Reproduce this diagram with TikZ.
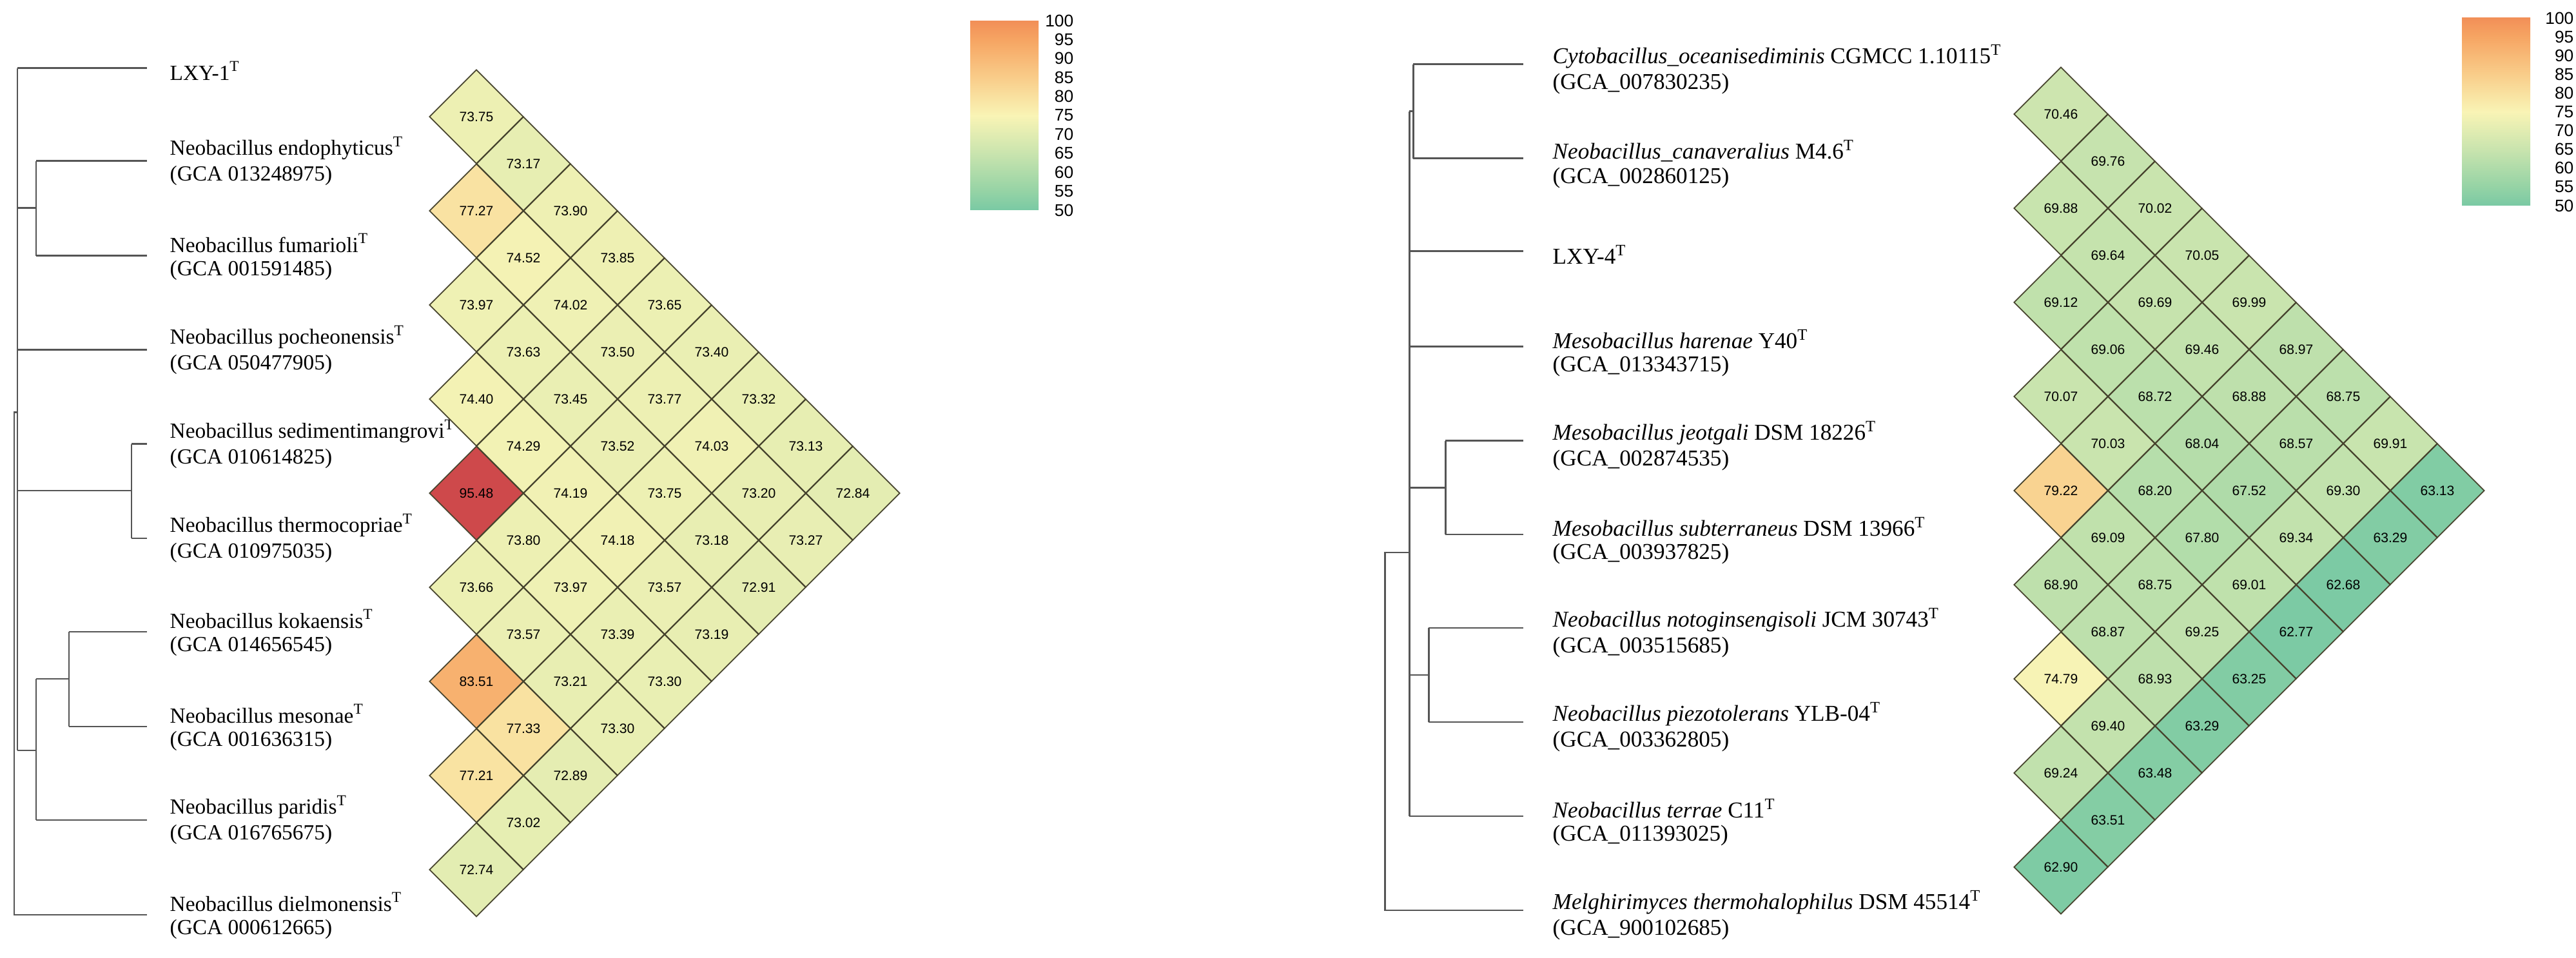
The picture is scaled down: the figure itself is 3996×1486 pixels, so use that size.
\documentclass[tikz,border=0pt]{standalone}
\usepackage{fontspec}
\setmainfont{Liberation Serif}
\newfontfamily\sansf{Liberation Sans}
\usetikzlibrary{shapes.geometric}
\definecolor{cm0}{HTML}{5A4FA0}
\definecolor{cm1}{HTML}{4A8DB6}
\definecolor{cm2}{HTML}{5EBFA3}
\definecolor{cm3}{HTML}{95D3A5}
\definecolor{cm4}{HTML}{C9E4AE}
\definecolor{cm5}{HTML}{F9F4B5}
\definecolor{cm6}{HTML}{F9CD8A}
\definecolor{cm7}{HTML}{F6A563}
\definecolor{cm8}{HTML}{EE7A4D}
\definecolor{cm9}{HTML}{D04B4B}
\definecolor{cm10}{HTML}{C1394E}
\definecolor{treec}{HTML}{555555}
\newcommand\cellcolorset[1]{%
 \pgfmathtruncatemacro\segi{floor((#1-50)/5)}%
 \pgfmathtruncatemacro\segj{\segi+1}%
 \pgfmathtruncatemacro\myfr{100-round(((#1-50)/5-\segi)*100)}%
 \colorlet{cellc}{cm\segi!\myfr!cm\segj}}
\pgfdeclareverticalshading{cbar}{100bp}{color(0bp)=(cm0); color(10bp)=(cm1); color(20bp)=(cm2); color(30bp)=(cm3); color(40bp)=(cm4); color(50bp)=(cm5); color(60bp)=(cm6); color(70bp)=(cm7); color(80bp)=(cm8); color(90bp)=(cm9); color(100bp)=(cm10)}
\begin{document}
\begin{tikzpicture}[x=0.01cm,y=-0.01cm,
  tree/.style={draw=treec,line width=0.85pt},
  cell/.style={diamond,draw=black!65!olive,line width=0.5pt,minimum width=14.6mm,minimum height=14.6mm,inner sep=0pt,font=\sansf\fontsize{6}{7}\selectfont},
  lname/.style={anchor=west,font=\fontsize{9.5}{11}\selectfont,inner sep=0pt},
  rname/.style={anchor=west,font=\fontsize{10}{12}\selectfont,inner sep=0pt},
  cblab/.style={anchor=east,font=\sansf\fontsize{7.5}{8}\selectfont,inner sep=0pt}]
\useasboundingbox (0,0) rectangle (3996,1486);
% ---------- left tree ----------
\draw[tree] (27,106) -- (27,1164);
\draw[tree] (27,106) -- (228,106);
\draw[tree] (27,323) -- (56,323) (56,250) -- (56,397) (56,250) -- (228,250) (56,397) -- (228,397);
\draw[tree] (27,543) -- (228,543);
\draw[tree] (27,761) -- (204,761) (204,689) -- (204,835) (204,689) -- (228,689) (204,835) -- (228,835);
\draw[tree] (27,1164) -- (56,1164) (56,1053) -- (56,1272) (56,1053) -- (107,1053) (107,980) -- (107,1127) (107,980) -- (228,980) (107,1127) -- (228,1127) (56,1272) -- (228,1272);
\draw[tree] (27,640) -- (22,640) -- (22,1419) -- (228,1419);
% left labels
\node[lname] (l1) at (263,110) {LXY-1\textsuperscript{T}};
\foreach \n/\g/\y [count=\i] in {endophyticus/013248975/250,fumarioli/001591485/397,pocheonensis/050477905/543,sedimentimangrovi/010614825/689,thermocopriae/010975035/835,kokaensis/014656545/980,mesonae/001636315/1127,paridis/016765675/1272,dielmonensis/000612665/1419}{
  \node[lname] (ln\i) at (263,\y-20) {Neobacillus \n\textsuperscript{T}};
  \node[lname] (lg\i) at (263,\y+22) {(GCA \g)};
}
% left heatmap
\foreach \c/\vals in {0/{73.75,77.27,73.97,74.40,95.48,73.66,83.51,77.21,72.74},1/{73.17,74.52,73.63,74.29,73.80,73.57,77.33,73.02},2/{73.90,74.02,73.45,74.19,73.97,73.21,72.89},3/{73.85,73.50,73.52,74.18,73.39,73.30},4/{73.65,73.77,73.75,73.57,73.30},5/{73.40,74.03,73.18,73.19},6/{73.32,73.20,72.91},7/{73.13,73.27},8/{72.84}}{
  \foreach \v [count=\k from 0] in \vals {
    \cellcolorset{\v}
    \node[cell,fill=cellc] (L\c-\k) at (739+73*\c,181+73*\c+146*\k) {\v};
  }
}
% left colour bar
\shade[shading=cbar] (1505,33) rectangle (1611,326);
\foreach \t [count=\i from 0] in {100,95,90,85,80,75,70,65,60,55,50}
  \node[cblab] (lc\i) at (1666,32+29.4*\i) {\t};
% ---------- right tree ----------
\draw[tree] (2192,100) -- (2192,246) (2192,100) -- (2363,100) (2192,246) -- (2363,246) (2186,173) -- (2192,173);
\draw[tree] (2186,173) -- (2186,1266);
\draw[tree] (2186,390) -- (2363,390) (2186,538) -- (2363,538);
\draw[tree] (2186,757) -- (2242,757) (2242,684) -- (2242,829) (2242,684) -- (2363,684) (2242,829) -- (2363,829);
\draw[tree] (2186,1047) -- (2216,1047) (2216,974) -- (2216,1120) (2216,974) -- (2363,974) (2216,1120) -- (2363,1120);
\draw[tree] (2186,1266) -- (2363,1266);
\draw[tree] (2186,857) -- (2148,857) -- (2148,1412) -- (2363,1412);
% right labels
\node[rname] (r3) at (2408,395) {LXY-4\textsuperscript{T}};
\foreach \n/\g/\y [count=\i] in {{\textit{Cytobacillus\_oceanisediminis} CGMCC 1.10115}/007830235/100,{\textit{Neobacillus\_canaveralius} M4.6}/002860125/246,{\textit{Mesobacillus harenae} Y40}/013343715/538,{\textit{Mesobacillus jeotgali} DSM 18226}/002874535/684,{\textit{Mesobacillus subterraneus} DSM 13966}/003937825/829,{\textit{Neobacillus notoginsengisoli} JCM 30743}/003515685/974,{\textit{Neobacillus piezotolerans} YLB-04}/003362805/1120,{\textit{Neobacillus terrae} C11}/011393025/1266,{\textit{Melghirimyces thermohalophilus} DSM 45514}/900102685/1412}{
  \node[rname] (rn\i) at (2408,\y-12) {\n\textsuperscript{T}};
  \node[rname] (rg\i) at (2408,\y+30) {(GCA\_\g)};
}
% right heatmap
\foreach \c/\vals in {0/{70.46,69.88,69.12,70.07,79.22,68.90,74.79,69.24,62.90},1/{69.76,69.64,69.06,70.03,69.09,68.87,69.40,63.51},2/{70.02,69.69,68.72,68.20,68.75,68.93,63.48},3/{70.05,69.46,68.04,67.80,69.25,63.29},4/{69.99,68.88,67.52,69.01,63.25},5/{68.97,68.57,69.34,62.77},6/{68.75,69.30,62.68},7/{69.91,63.29},8/{63.13}}{
  \foreach \v [count=\k from 0] in \vals {
    \cellcolorset{\v}
    \node[cell,fill=cellc] (R\c-\k) at (3197+73*\c,177+73*\c+146*\k) {\v};
  }
}
% right colour bar
\shade[shading=cbar] (3819,28) rectangle (3925,319);
\foreach \t [count=\i from 0] in {100,95,90,85,80,75,70,65,60,55,50}
  \node[cblab] (rc\i) at (3993,28+29.1*\i) {\t};
\end{tikzpicture}
\end{document}
